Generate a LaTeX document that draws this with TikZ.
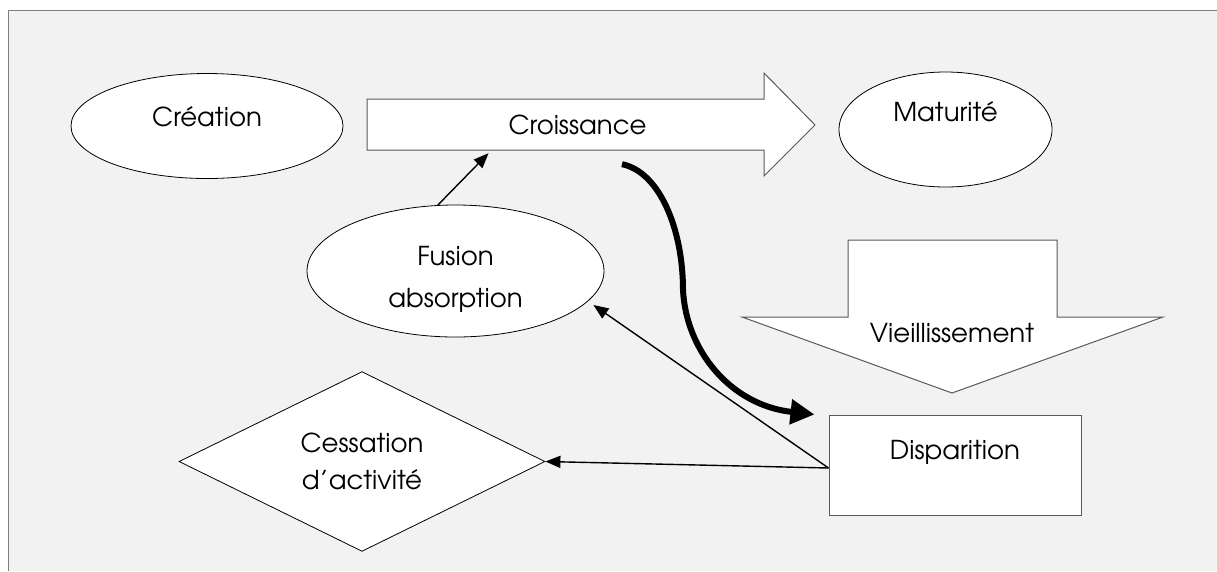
\documentclass[tikz,border=0pt]{standalone}
\usepackage{fontspec}
\setmainfont{texgyreadventor-regular.otf}
\usetikzlibrary{shapes.geometric,arrows.meta}
\definecolor{panel}{HTML}{F2F2F2}
\definecolor{framegray}{HTML}{808080}
\definecolor{edgegray}{HTML}{595959}
\begin{document}
\begin{tikzpicture}[x=1pt,y=-1pt,
  every node/.style={font=\fontsize{26}{30}\selectfont, text=black},
  roundshape/.style={draw=black, line width=0.8pt, fill=white, inner sep=0pt},
  flatshape/.style={draw=edgegray, line width=1pt, fill=white},
  link/.style={line width=1.4pt, -{Triangle[length=15pt,width=12pt]}},
  bigflow/.style={line width=6pt, -{Triangle[length=24pt,width=24pt]}},
]
\useasboundingbox (0,0) rectangle (1217,571);
% panel
\fill[panel] (8,10) rectangle (1217,571);
\draw[framegray, line width=1pt] (8,571) -- (8,10) -- (1217,10);

% growth arrow (pointing right)
\draw[flatshape] (367,99) -- (764,99) -- (764,73) -- (815,125) -- (764,176)
  -- (764,150) -- (367,150) -- cycle;
\node[minimum width=397pt, minimum height=51pt, inner sep=0pt,
  label={[xshift=12pt]center:Croissance}] (croi) at (565.5,124.5) {};

% ageing arrow (pointing down)
\draw[flatshape] (848,240) -- (1057,240) -- (1057,317) -- (1163,317) -- (952,393)
  -- (742,317) -- (848,317) -- cycle;
\node (vieil) at (952,333) {Vieillissement};

% stages
\node[roundshape, ellipse, minimum width=272pt, minimum height=105pt,
  label={[yshift=9pt]center:Création}] (crea) at (207,126) {};
\node[roundshape, ellipse, minimum width=213pt, minimum height=115pt,
  label={[yshift=18pt]center:Maturité}] (matu) at (945.5,129.5) {};
\node[roundshape, ellipse, minimum width=297pt, minimum height=132pt,
  label={[yshift=-8pt, align=center, font=\fontsize{26}{42}\selectfont]center:Fusion\\absorption}] (fus) at (455.5,271) {};
\node[flatshape, rectangle, minimum width=252pt, minimum height=100pt,
  label={[yshift=13pt]center:Disparition}] (disp) at (955,465) {};
\node[roundshape, diamond, minimum width=366pt, minimum height=173pt,
  align=center, font=\fontsize{26}{37}\selectfont] (cess) at (362,461.5) {Cessation\\d’activité};

% connectors
\draw[link] (fus.105) -- ([xshift=-77pt,yshift=-3pt]croi.south);
\draw[link] ([yshift=-3pt]disp.west) -- ([xshift=-11pt,yshift=-34pt]fus.east);
\draw[link] ([yshift=-3pt]disp.west) -- (cess.east);
\draw[bigflow] ([xshift=56.5pt,yshift=-14pt]croi.south)
  .. controls (660,172) and (683,230) .. (683,290)
  .. controls (686,350) and (730,405) .. ([xshift=-14pt]disp.north west);
\end{tikzpicture}
\end{document}
